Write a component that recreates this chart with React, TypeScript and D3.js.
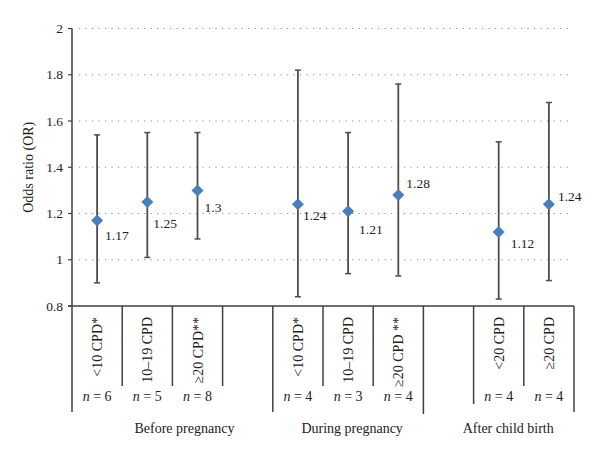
import React from "react";
import * as d3 from "d3";

// ---- data ----
const categories = ["<10 CPD*", "10–19 CPD", "≥20 CPD**", "", "<10 CPD*", "10–19 CPD", "≥20 CPD **", "", "<20 CPD", "≥20 CPD"];
const nCounts = ["6", "5", "8", "", "4", "3", "4", "", "4", "4"];
const orValues = [1.17, 1.25, 1.3, null, 1.24, 1.21, 1.28, null, 1.12, 1.24];
const lowerCI = [0.9, 1.01, 1.09, null, 0.84, 0.94, 0.93, null, 0.83, 0.91];
const upperCI = [1.54, 1.55, 1.55, null, 1.82, 1.55, 1.76, null, 1.51, 1.68];
const groups = ["Before pregnancy", "During pregnancy", "After child birth"];
const yTicks = [0.8, 1, 1.2, 1.4, 1.6, 1.8, 2];

// ---- layout (styling only) ----
const W = 600, H = 457;
const left = 72, right = 574, top = 28.5, bottom = 306;
const labelOffsets: [number, number][] = [
  [8, 20], [6, 26], [7, 22], [0, 0], [5, 16], [11, 23], [8, -7], [0, 0], [12, 16], [9, -3],
];
const dividerEnds = [412, 386, 386, 386, 412, 386, 386, 414, 404, 386, 412];
const groupCenters = [2.24, 5.58, 8.69]; // in slot units
const FONT = "'Liberation Serif', 'Times New Roman', serif";
const fmt = (v: number) => String(v);

export default function App() {
  const idx = categories.map((_, i) => i);
  const x = d3.scaleBand<number>().domain(idx).range([left, right]).padding(0);
  const y = d3.scaleLinear().domain([0.8, 2]).range([bottom, top]);
  const bw = x.bandwidth();
  const cx = (i: number) => (x(i) as number) + bw / 2;
  const slotX = (s: number) => left + s * bw;
  const axisColor = "#404040";

  return (
    <svg width={W} height={H} style={{ position: "absolute", left: 0, top: 0, background: "#fff" }} fontFamily={FONT}>
      {/* gridlines */}
      {yTicks.filter((t) => t > 0.8).map((t) => (
        <line key={"g" + t} x1={left + 7} x2={right - 2} y1={y(t)} y2={y(t)} stroke="#8c8c8c" strokeWidth={1} strokeDasharray="1.2,5.3" />
      ))}
      {/* y axis */}
      <line x1={left} x2={left} y1={top} y2={bottom} stroke={axisColor} strokeWidth={1.5} />
      {yTicks.map((t) => (
        <g key={"t" + t}>
          <line x1={left - 4} x2={left} y1={y(t)} y2={y(t)} stroke={axisColor} strokeWidth={1.2} />
          <text x={left - 9} y={y(t)} dy="0.35em" textAnchor="end" fontSize={13.5} fill="#222">{fmt(t)}</text>
        </g>
      ))}
      <text transform={`translate(33,${(top + bottom) / 2}) rotate(-90)`} textAnchor="middle" fontSize={14} fill="#222">Odds ratio (OR)</text>

      {/* x axis line */}
      <line x1={left - 4} x2={right} y1={bottom} y2={bottom} stroke={axisColor} strokeWidth={1.5} />
      {dividerEnds.map((e, i) => (
        <line key={"d" + i} x1={slotX(i)} x2={slotX(i)} y1={bottom} y2={e} stroke={axisColor} strokeWidth={1.5} />
      ))}

      {/* category labels */}
      {categories.map((c, i) => c ? (
        <text key={"c" + i} transform={`translate(${cx(i) + 5},317) rotate(-90)`} textAnchor="end" fontSize={14} fill="#222">{c}</text>
      ) : null)}
      {nCounts.map((n, i) => n ? (
        <text key={"n" + i} x={cx(i)} y={400.5} textAnchor="middle" fontSize={14} fill="#222">
          <tspan fontStyle="italic">n</tspan>
          <tspan> = {n}</tspan>
        </text>
      ) : null)}
      {groups.map((g, i) => (
        <text key={"gr" + i} x={slotX(groupCenters[i])} y={433} textAnchor="middle" fontSize={14} fill="#222">{g}</text>
      ))}

      {/* error bars */}
      {orValues.map((v, i) => {
        if (v == null) return null;
        const lo = lowerCI[i] as number, hi = upperCI[i] as number;
        const px = cx(i);
        return (
          <g key={"e" + i}>
            <line x1={px} x2={px} y1={y(lo)} y2={y(hi)} stroke="#4d4d4d" strokeWidth={1.8} />
            <line x1={px - 3} x2={px + 3} y1={y(lo)} y2={y(lo)} stroke="#4d4d4d" strokeWidth={1.5} />
            <line x1={px - 3} x2={px + 3} y1={y(hi)} y2={y(hi)} stroke="#4d4d4d" strokeWidth={1.5} />
          </g>
        );
      })}
      {/* markers */}
      {orValues.map((v, i) => {
        if (v == null) return null;
        const px = cx(i), py = y(v);
        const s = 6;
        return (
          <path key={"m" + i} d={`M${px},${py - s}L${px + s},${py}L${px},${py + s}L${px - s},${py}Z`} fill="#4a7ebb" />
        );
      })}
      {/* data labels */}
      {orValues.map((v, i) => {
        if (v == null) return null;
        const [dx, dy] = labelOffsets[i];
        return (
          <text key={"l" + i} x={cx(i) + dx} y={y(v) + dy} fontSize={13.5} fill="#222">{fmt(v)}</text>
        );
      })}
    </svg>
  );
}
